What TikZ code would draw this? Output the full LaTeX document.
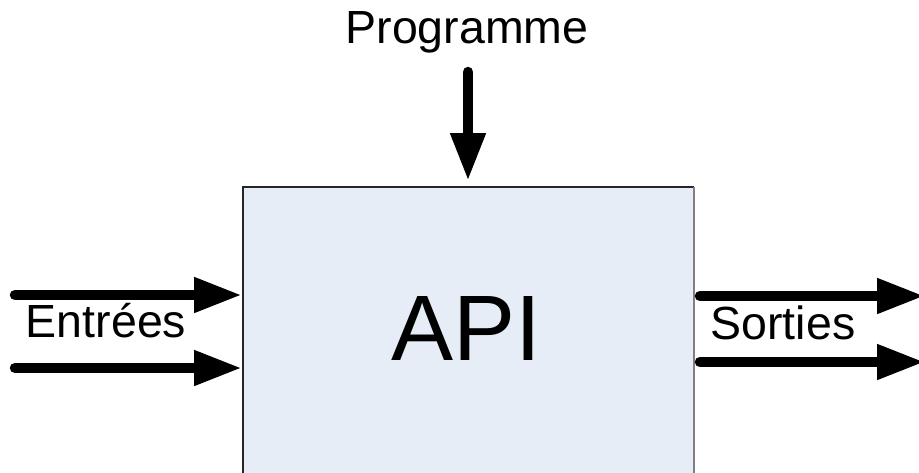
\documentclass[tikz,border=0pt]{standalone}
\usepackage{fontspec}
\setmainfont{Liberation Sans}
\usetikzlibrary{arrows.meta}
\definecolor{boxfill}{HTML}{E6EDF7}
\begin{document}
\begin{tikzpicture}[x=1pt,y=-1pt,
  lbl/.style={inner sep=0pt,anchor=base,font=\fontsize{46.5}{50}\selectfont},
  flow/.style={line width=10.5pt,line cap=round,-{Triangle[length=48pt,width=33pt]}}]
\useasboundingbox (0,0) rectangle (919,472);
\clip (0,0) rectangle (919,472);
\fill[boxfill] (243,187) rectangle (694,480);
\draw[line width=1.5pt,black!85] (694,480) -- (243,480) -- (243,187) -- (694,187);
\draw[line width=2.5pt,black!50] (694,187) -- (694,480);
\node[inner sep=0pt,anchor=base,font=\fontsize{93}{100}\selectfont] (api) at (466,360) {API};
\node[lbl] (prog) at (467,43) {Programme};
\node[lbl] (in) at (106,337) {Entrées};
\node[lbl] (out) at (783,339) {Sorties};
\coordinate (p0) at (468,72);
\coordinate (p1) at (468,181);
\coordinate (i1a) at (15,295);
\coordinate (i1b) at (242,295);
\coordinate (i2a) at (15,368);
\coordinate (i2b) at (242,368);
\coordinate (o1a) at (700,296);
\coordinate (o1b) at (925,296);
\coordinate (o2a) at (700,362);
\coordinate (o2b) at (925,362);
\draw[flow] (p0) -- (p1);
\draw[flow] (i1a) -- (i1b);
\draw[flow] (i2a) -- (i2b);
\draw[flow] (o1a) -- (o1b);
\draw[flow] (o2a) -- (o2b);
\end{tikzpicture}
\end{document}
